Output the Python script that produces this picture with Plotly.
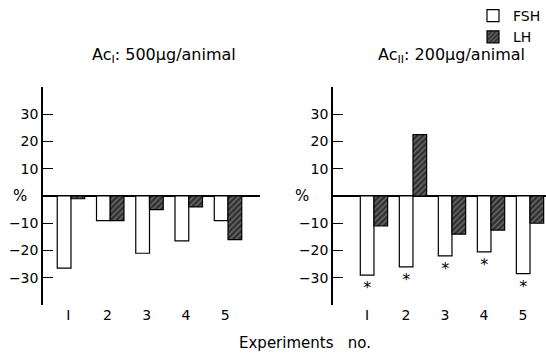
import plotly.graph_objects as go

experiments = [1, 2, 3, 4, 5]
fsh_ac1 = [-26.5, -9, -21, -16.5, -9]
lh_ac1 = [-1, -9, -5, -4, -16]
fsh_ac2 = [-29, -26, -22, -20.5, -28.5]
lh_ac2 = [-11, 22.5, -14, -12.5, -10]
stars_ac2 = ["*", "*", "*", "*", "*"]
x_tick_labels = ["I", "2", "3", "4", "5"]
y_ticks = [-30, -20, -10, 10, 20, 30]

FONT = "DejaVu Sans"
fsh_style = dict(color="white", line=dict(color="black", width=1.2))
lh_style = dict(color="#333", line=dict(color="black", width=1.2),
                pattern=dict(shape="/", fgcolor="#b0b0b0", bgcolor="#303030",
                             size=4, solidity=0.35))

fig = go.Figure()
fig.add_trace(go.Bar(x=experiments, y=fsh_ac1, name="FSH", marker=fsh_style,
                     xaxis="x", yaxis="y", legendrank=1))
fig.add_trace(go.Bar(x=experiments, y=lh_ac1, name="LH", marker=lh_style,
                     xaxis="x", yaxis="y", legendrank=2))
fig.add_trace(go.Bar(x=experiments, y=fsh_ac2, name="FSH", marker=fsh_style,
                     text=stars_ac2, textposition="outside",
                     textfont=dict(family=FONT, size=16, color="black"),
                     cliponaxis=False, showlegend=False,
                     xaxis="x2", yaxis="y2"))
fig.add_trace(go.Bar(x=experiments, y=lh_ac2, name="LH", marker=lh_style,
                     showlegend=False, xaxis="x2", yaxis="y2"))

W, H = 546, 354
TOP, BOT = 87, 305
def py(p):
    return (BOT - p) / (BOT - TOP)

yax = dict(range=[-40, 40], tickvals=y_ticks, ticks="inside", ticklen=10,
           tickwidth=1.2, tickcolor="black", showline=True, linecolor="black",
           linewidth=1.5, showgrid=False, zeroline=True, zerolinecolor="black",
           zerolinewidth=1.5, tickfont=dict(family=FONT, size=14, color="black"))
xax = dict(showgrid=False, showline=False, zeroline=False, ticks="",
           tickfont=dict(family=FONT, size=14, color="black"))

fig.update_layout(
    width=W, height=H,
    margin=dict(l=0, r=0, t=TOP, b=H - BOT, autoexpand=False),
    paper_bgcolor="white", plot_bgcolor="white",
    barmode="group", bargap=0.3, bargroupgap=0,
    font=dict(family=FONT, size=14, color="black"),
    xaxis=dict(xax, domain=[43 / W, 260 / W], range=[0.287, 5.815],
               tickvals=[e - 0.07 for e in experiments], ticktext=x_tick_labels),
    xaxis2=dict(xax, domain=[333 / W, 1.0], range=[-0.05, 5.41],
                tickvals=[e - 0.18 for e in experiments], ticktext=x_tick_labels),
    yaxis=dict(yax, anchor="x"),
    yaxis2=dict(yax, anchor="x2"),
    showlegend=True,
    legend=dict(xref="container", yref="container", x=1.02, y=1.0,
                xanchor="right", yanchor="top", bgcolor="rgba(0,0,0,0)",
                font=dict(family=FONT, size=14, color="black"),
                itemwidth=30, tracegroupgap=0),
    annotations=[
        dict(text="Ac<sub>I</sub>: 500μg/animal", x=164 / W, y=py(55),
             xref="paper", yref="paper", showarrow=False,
             font=dict(family=FONT, size=16), xanchor="center", yanchor="middle"),
        dict(text="Ac<sub>II</sub>: 200μg/animal", x=452 / W, y=py(55),
             xref="paper", yref="paper", showarrow=False,
             font=dict(family=FONT, size=16), xanchor="center", yanchor="middle"),
        dict(text="%", x=0, y=0, xref="x domain", yref="y", xshift=-32,
             showarrow=False, font=dict(family=FONT, size=15)),
        dict(text="%", x=0, y=0, xref="x2 domain", yref="y2", xshift=-40,
             showarrow=False, font=dict(family=FONT, size=15)),
        dict(text="Experiments   no.", x=305 / W, y=py(343),
             xref="paper", yref="paper", showarrow=False,
             font=dict(family=FONT, size=15), xanchor="center", yanchor="middle"),
    ],
)

fig.write_html("out.html")
